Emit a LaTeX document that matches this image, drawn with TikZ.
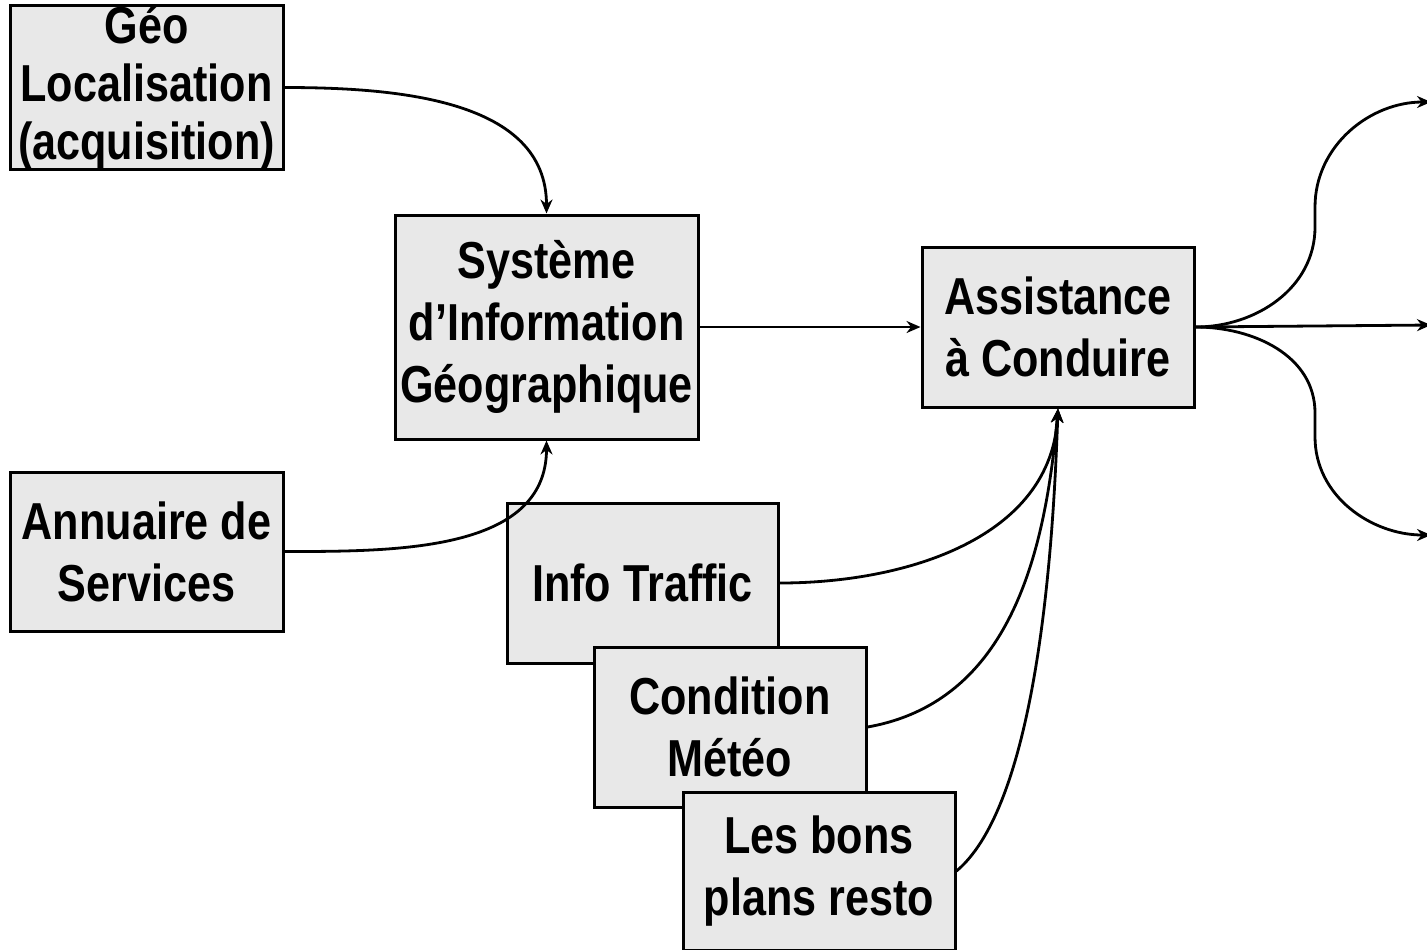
\documentclass[tikz,border=0pt]{standalone}
\usepackage{fontspec}
\setmainfont{Liberation Sans}[FakeStretch=0.83]
\usetikzlibrary{arrows.meta}

\definecolor{boxgray}{RGB}{232,232,232}

\tikzset{
  bloc/.style={draw=black, line width=1.5pt, fill=boxgray, align=center, inner sep=0pt,
    font=\bfseries\fontsize{26}{31}\selectfont},
  fleche/.style={line width=1.4pt, -{Stealth[length=7pt,width=6pt]}}
}

\begin{document}
\begin{tikzpicture}[x=0.5pt,y=0.5pt,yscale=-1]
        \useasboundingbox (0,0) rectangle (1427,949);

        % Boxes
        \node[bloc, minimum width=136.5pt, minimum height=79.5pt, font=\bfseries\fontsize{26}{29}\selectfont] (geo) at (146.5,87.5) {Géo\\Localisation\\(acquisition)};
        \node[bloc, minimum width=151.5pt, minimum height=112pt] (sig) at (546.5,327) {Système\\d’Information\\Géographique};
        \node[bloc, minimum width=136pt, minimum height=80pt] (assist) at (1058,327) {Assistance\\à Conduire};
        \node[bloc, minimum width=136.5pt, minimum height=79.5pt] (annu) at (146.5,551.5) {Annuaire de\\Services};
        \node[bloc, minimum width=135.5pt, minimum height=80pt] (info) at (642.5,583) {Info Traffic};
        \node[bloc, minimum width=136pt, minimum height=80pt] (meteo) at (730,727) {Condition\\Météo};
        \node[bloc, minimum width=136pt, minimum height=79pt] (resto) at (819,871) {Les bons\\plans resto};

        % Free ends at the right edge, and the bends of the outputs
        \coordinate (sortie1) at (1431,102);
        \coordinate (sortie2) at (1431,325);
        \coordinate (sortie3) at (1431,535);
        \coordinate (haut1) at (1315,227);
        \coordinate (haut2) at (1315,207);
        \coordinate (bas1) at (1315,413);
        \coordinate (bas2) at (1315,437);

        %Curves into the SIG
        \draw[fleche] (geo.east) to[out=0,in=-90] (sig.north);
        \draw[fleche] (annu.east) to[out=0,in=90] (sig.south);
        %Straight Lines
        \draw[fleche] (sig.east) -- (assist.west);
        %Curves into the assistance
        \draw[fleche] (info.east) to[out=0,in=93] (assist.south);
        \draw[fleche] (meteo.east) to[out=-10,in=95] (assist.south);
        \draw[fleche] (resto.east) to[out=-40,in=92,looseness=0.6] (assist.south);
        %Outputs
        \draw[fleche] (assist.east) to[out=0,in=90] (haut1) -- (haut2) to[out=-90,in=180] (sortie1);
        \draw[fleche] (assist.east) -- (sortie2);
        \draw[fleche] (assist.east) to[out=0,in=-90] (bas1) -- (bas2) to[out=90,in=180] (sortie3);

\end{tikzpicture}
\end{document}
